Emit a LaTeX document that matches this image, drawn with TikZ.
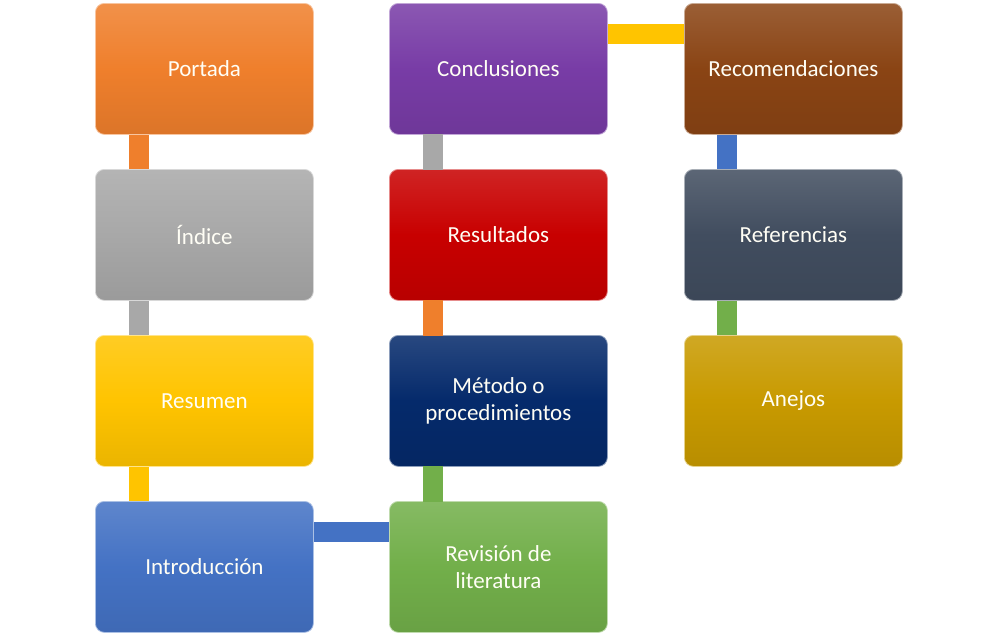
\documentclass[tikz,border=0pt]{standalone}
\usepackage{fontspec}
\setmainfont{Carlito}
\begin{document}
\begin{tikzpicture}[x=1pt,y=-1pt,
  box/.style={rounded corners=9pt, minimum width=218pt, minimum height=131pt,
    anchor=north west, inner sep=0pt, text=white!96!yellow, align=center,
    font=\fontsize{23}{26.5}\selectfont, draw=white!55!#1, line width=0.8pt,
    top color=white!14!#1, bottom color=#1!92!black, middle color=#1},
  link/.style={line width=20pt, draw=#1}]
\useasboundingbox (0,0) rectangle (999,635);
\definecolor{cOrange}{HTML}{EF7F2C}
\definecolor{cGray}{HTML}{A8A8A8}
\definecolor{cGold}{HTML}{FFC400}
\definecolor{cBlue}{HTML}{4472C4}
\definecolor{cGreen}{HTML}{72AF4A}
\definecolor{cNavy}{HTML}{052A6B}
\definecolor{cRed}{HTML}{C80000}
\definecolor{cPurple}{HTML}{783CA6}
\definecolor{cBrown}{HTML}{8A4414}
\definecolor{cSlate}{HTML}{414D5F}
\definecolor{cOchre}{HTML}{C89A00}
\definecolor{lGold}{HTML}{FFC400}
% connectors
\node[box=cOrange] (portada) at (95,3) {Portada};
\node[box=cGray] (indice) at (95,169) {Índice};
\node[box=cGold] (resumen) at (95,335) {Resumen};
\node[box=cBlue] (intro) at (95,501) {Introducción};
\node[box=cGreen] (revision) at (389,501) {Revisión de\\literatura};
\node[box=cNavy] (metodo) at (389,335) {Método o\\procedimientos};
\node[box=cRed] (resultados) at (389,169) {Resultados};
\node[box=cPurple] (conclusiones) at (389,3) {Conclusiones};
\node[box=cBrown] (recom) at (684,3) {Recomendaciones};
\node[box=cSlate] (refs) at (684,169) {Referencias};
\node[box=cOchre] (anejos) at (684,335) {Anejos};
\draw[link=cOrange] ([xshift=44pt,yshift=-0.5pt]portada.south west) -- ([xshift=44pt,yshift=0.5pt]indice.north west);
\draw[link=cGray] ([xshift=44pt,yshift=-0.5pt]indice.south west) -- ([xshift=44pt,yshift=0.5pt]resumen.north west);
\draw[link=cGold] ([xshift=44pt,yshift=-0.5pt]resumen.south west) -- ([xshift=44pt,yshift=0.5pt]intro.north west);
\draw[link=cBlue] ([xshift=0.5pt,yshift=-31pt]intro.north east) -- ([xshift=-0.5pt,yshift=-31pt]revision.north west);
\draw[link=cGreen] ([xshift=44pt,yshift=-0.5pt]revision.north west) -- ([xshift=44pt,yshift=0.5pt]metodo.south west);
\draw[link=cOrange] ([xshift=44pt,yshift=-0.5pt]metodo.north west) -- ([xshift=44pt,yshift=0.5pt]resultados.south west);
\draw[link=cGray] ([xshift=44pt,yshift=-0.5pt]resultados.north west) -- ([xshift=44pt,yshift=0.5pt]conclusiones.south west);
\draw[link=lGold] ([xshift=0.5pt,yshift=-31pt]conclusiones.north east) -- ([xshift=-0.5pt,yshift=-31pt]recom.north west);
\draw[link=cBlue] ([xshift=43pt,yshift=-0.5pt]recom.south west) -- ([xshift=43pt,yshift=0.5pt]refs.north west);
\draw[link=cGreen] ([xshift=43pt,yshift=-0.5pt]refs.south west) -- ([xshift=43pt,yshift=0.5pt]anejos.north west);
\end{tikzpicture}
\end{document}
